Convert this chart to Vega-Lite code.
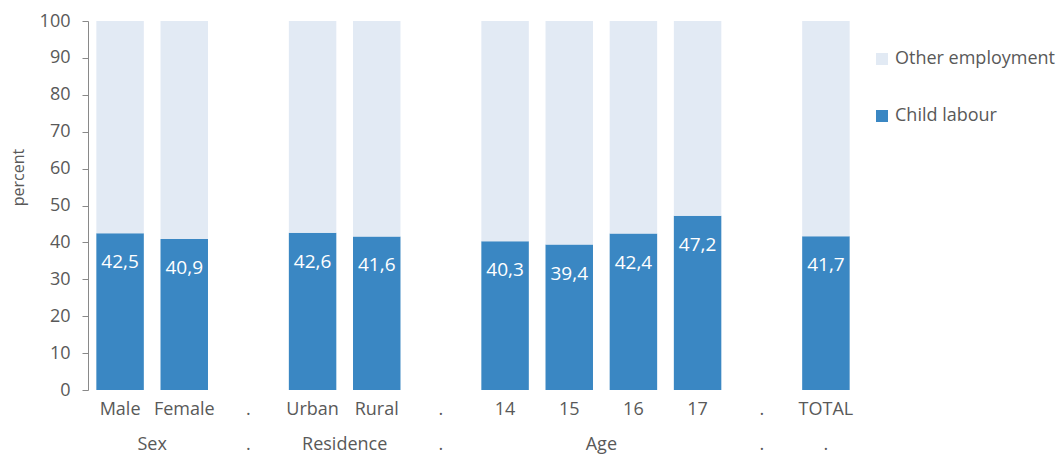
{
  "$schema": "https://vega.github.io/schema/vega-lite/v6.json",
  "width": 770,
  "height": 369,
  "autosize": {"type": "none"},
  "padding": {"left": 88, "top": 21, "right": 203, "bottom": 64},
  "background": "white",
  "config": {
    "view": {"stroke": null},
    "font": "Open Sans",
    "axis": {"labelOverlap": false, "labelSeparation": 0},
    "axisY": {"tickCount": 10, "labelOverlap": false, "labelSeparation": 0}
  },
  "layer": [
    {
      "data": {"values": [
        {"cat": "Male", "series": "Child labour", "value": 42.5, "label": "42,5", "ord": 0},
        {"cat": "Male", "series": "Other employment", "value": 57.5, "label": "", "ord": 1},
        {"cat": "Female", "series": "Child labour", "value": 40.9, "label": "40,9", "ord": 0},
        {"cat": "Female", "series": "Other employment", "value": 59.1, "label": "", "ord": 1},
        {"cat": "Urban", "series": "Child labour", "value": 42.6, "label": "42,6", "ord": 0},
        {"cat": "Urban", "series": "Other employment", "value": 57.4, "label": "", "ord": 1},
        {"cat": "Rural", "series": "Child labour", "value": 41.6, "label": "41,6", "ord": 0},
        {"cat": "Rural", "series": "Other employment", "value": 58.4, "label": "", "ord": 1},
        {"cat": "14", "series": "Child labour", "value": 40.3, "label": "40,3", "ord": 0},
        {"cat": "14", "series": "Other employment", "value": 59.7, "label": "", "ord": 1},
        {"cat": "15", "series": "Child labour", "value": 39.4, "label": "39,4", "ord": 0},
        {"cat": "15", "series": "Other employment", "value": 60.6, "label": "", "ord": 1},
        {"cat": "16", "series": "Child labour", "value": 42.4, "label": "42,4", "ord": 0},
        {"cat": "16", "series": "Other employment", "value": 57.6, "label": "", "ord": 1},
        {"cat": "17", "series": "Child labour", "value": 47.2, "label": "47,2", "ord": 0},
        {"cat": "17", "series": "Other employment", "value": 52.8, "label": "", "ord": 1},
        {"cat": "TOTAL", "series": "Child labour", "value": 41.7, "label": "41,7", "ord": 0},
        {"cat": "TOTAL", "series": "Other employment", "value": 58.3, "label": "", "ord": 1}
      ]},
      "layer": [
        {
          "mark": {"type": "bar"},
          "encoding": {
            "x": {
              "field": "cat", "type": "nominal",
              "scale": {"domain": ["Male", "Female", "gap1", "Urban", "Rural", "gap2", "14", "15", "16", "17", "gap3", "TOTAL"], "paddingInner": 0.26, "paddingOuter": 0.13},
              "axis": {
                "title": null, "domain": false, "ticks": false, "labelAngle": 0,
                "labelExpr": "indexof(datum.label, 'gap') === 0 ? '.' : datum.label",
                "labelFontSize": 18, "labelColor": "#595959", "labelPadding": 10
              }
            },
            "y": {
              "field": "value", "type": "quantitative", "stack": "zero",
              "scale": {"domain": [0, 100], "nice": false},
              "axis": {
                "title": "percent", "tickCount": 10, "labelOverlap": false,
                "grid": false, "domainColor": "#898989", "tickColor": "#898989", "tickSize": 6,
                "labelFontSize": 18, "labelColor": "#595959", "labelPadding": 12,
                "titleFontSize": 16, "titleFontWeight": "normal", "titleColor": "#595959",
                "titleX": -70, "titleY": 156, "titleAlign": "center", "titleBaseline": "middle", "titleAngle": -90
              }
            },
            "color": {
              "field": "series", "type": "nominal",
              "scale": {"domain": ["Other employment", "Child labour"], "range": ["#E2EAF4", "#3A87C3"]},
              "legend": {
                "title": null, "orient": "none", "legendX": 785, "legendY": 29,
                "symbolType": "square", "symbolSize": 144, "symbolStrokeWidth": 0,
                "labelFontSize": 18, "labelColor": "#595959", "labelOffset": 4, "rowPadding": 39
              }
            },
            "order": {"field": "ord", "type": "quantitative"}
          }
        },
        {
          "transform": [{"filter": "datum.series === 'Child labour'"}],
          "mark": {"type": "text", "color": "white", "fontSize": 19, "baseline": "middle", "dy": 29},
          "encoding": {
            "x": {"field": "cat", "type": "nominal"},
            "y": {"field": "value", "type": "quantitative"},
            "text": {"field": "label"}
          }
        }
      ]
    },
    {
      "data": {"values": [
        {"anchor": "Male", "group": "Sex"},
        {"anchor": "Urban", "group": "Residence"},
        {"anchor": "15", "group": "Age"}
      ]},
      "mark": {"type": "text", "fontSize": 18, "color": "#595959", "baseline": "middle"},
      "encoding": {
        "x": {"field": "anchor", "type": "nominal", "bandPosition": 1.176},
        "y": {"datum": -14.9, "type": "quantitative"},
        "text": {"field": "group"}
      }
    },
    {
      "data": {"values": [
        {"anchor": "gap1", "group": "."},
        {"anchor": "gap2", "group": "."},
        {"anchor": "gap3", "group": "."},
        {"anchor": "TOTAL", "group": "."}
      ]},
      "mark": {"type": "text", "fontSize": 18, "color": "#595959", "baseline": "middle"},
      "encoding": {
        "x": {"field": "anchor", "type": "nominal", "bandPosition": 0.5},
        "y": {"datum": -14.9, "type": "quantitative"},
        "text": {"field": "group"}
      }
    }
  ]
}
